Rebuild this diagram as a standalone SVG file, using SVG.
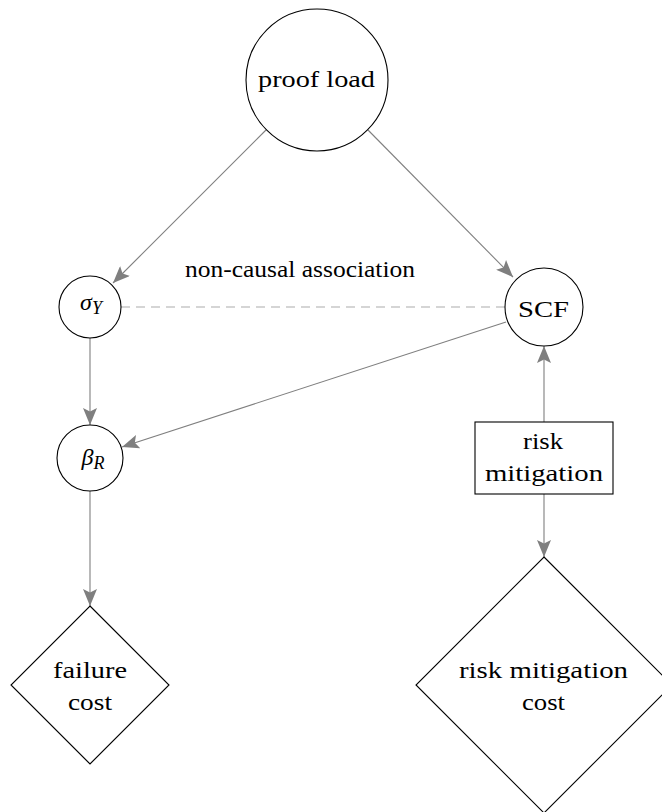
<svg xmlns="http://www.w3.org/2000/svg" width="662" height="812" viewBox="0 0 662 812">
<style>
.node{fill:#fff;stroke:#000;stroke-width:1.1}
text{font-family:'Liberation Serif','Times New Roman',Times,serif;font-size:24px;fill:#000;text-anchor:middle}
.it{font-style:italic}
.edge{stroke:#7f7f7f;stroke-width:1.1;fill:none}
.dash{stroke:#c8c8c8;stroke-width:1.3;stroke-dasharray:9,6;fill:none}
.head{fill:#7f7f7f;stroke:none}
</style>
<defs>
<marker id="ah" markerUnits="userSpaceOnUse" viewBox="0 0 18 14" markerWidth="18" markerHeight="14" refX="17" refY="7" orient="auto">
<path class="head" d="M0,0 L17,7 L0,14 L3.5,7 z"/>
</marker>
</defs>
<rect width="662" height="812" fill="#fff"/>
<g id="connectors">
<line class="edge" x1="266" y1="130" x2="113" y2="283" marker-end="url(#ah)"/>
<line class="edge" x1="368" y1="130" x2="513" y2="277" marker-end="url(#ah)"/>
<line class="dash" x1="121" y1="307" x2="505" y2="307"/>
<line class="edge" x1="90" y1="337" x2="90" y2="425" marker-end="url(#ah)"/>
<line class="edge" x1="506" y1="322" x2="122" y2="447" marker-end="url(#ah)"/>
<line class="edge" x1="544" y1="422" x2="544" y2="346" marker-end="url(#ah)"/>
<line class="edge" x1="544" y1="494" x2="544" y2="557" marker-end="url(#ah)"/>
<line class="edge" x1="90" y1="491" x2="90" y2="606" marker-end="url(#ah)"/>
<text x="300" y="277" textLength="230" lengthAdjust="spacingAndGlyphs">non-causal association</text>
</g>
<g id="proof_load">
<circle class="node" cx="317" cy="80" r="71"/>
<text x="316.5" y="87" textLength="117" lengthAdjust="spacingAndGlyphs">proof load</text>
</g>
<g id="sigma_Y">
<circle class="node" cx="90" cy="307" r="31"/>
<text class="it" x="91" y="310">σ<tspan font-size="18" dy="4">Y</tspan></text>
</g>
<g id="SCF">
<circle class="node" cx="544" cy="307" r="39"/>
<text x="543.5" y="317" textLength="51" lengthAdjust="spacingAndGlyphs">SCF</text>
</g>
<g id="beta_R">
<circle class="node" cx="90" cy="458" r="33"/>
<text class="it" x="93" y="465">β<tspan font-size="18" dy="4">R</tspan></text>
</g>
<g id="risk_mitigation">
<rect class="node" x="475" y="422" width="138" height="72"/>
<text x="543" y="449" textLength="40" lengthAdjust="spacingAndGlyphs">risk</text>
<text x="544" y="481" textLength="118" lengthAdjust="spacingAndGlyphs">mitigation</text>
</g>
<g id="failure_cost">
<polygon class="node" points="90,606 169,685 90,764 11,685"/>
<text x="90" y="678" textLength="74" lengthAdjust="spacingAndGlyphs">failure</text>
<text x="90" y="710" textLength="44" lengthAdjust="spacingAndGlyphs">cost</text>
</g>
<g id="risk_mitigation_cost">
<polygon class="node" points="544,557 672,685 544,813 416,685"/>
<text x="543.5" y="678" textLength="169" lengthAdjust="spacingAndGlyphs">risk mitigation</text>
<text x="543.5" y="710" textLength="43" lengthAdjust="spacingAndGlyphs">cost</text>
</g>
</svg>
